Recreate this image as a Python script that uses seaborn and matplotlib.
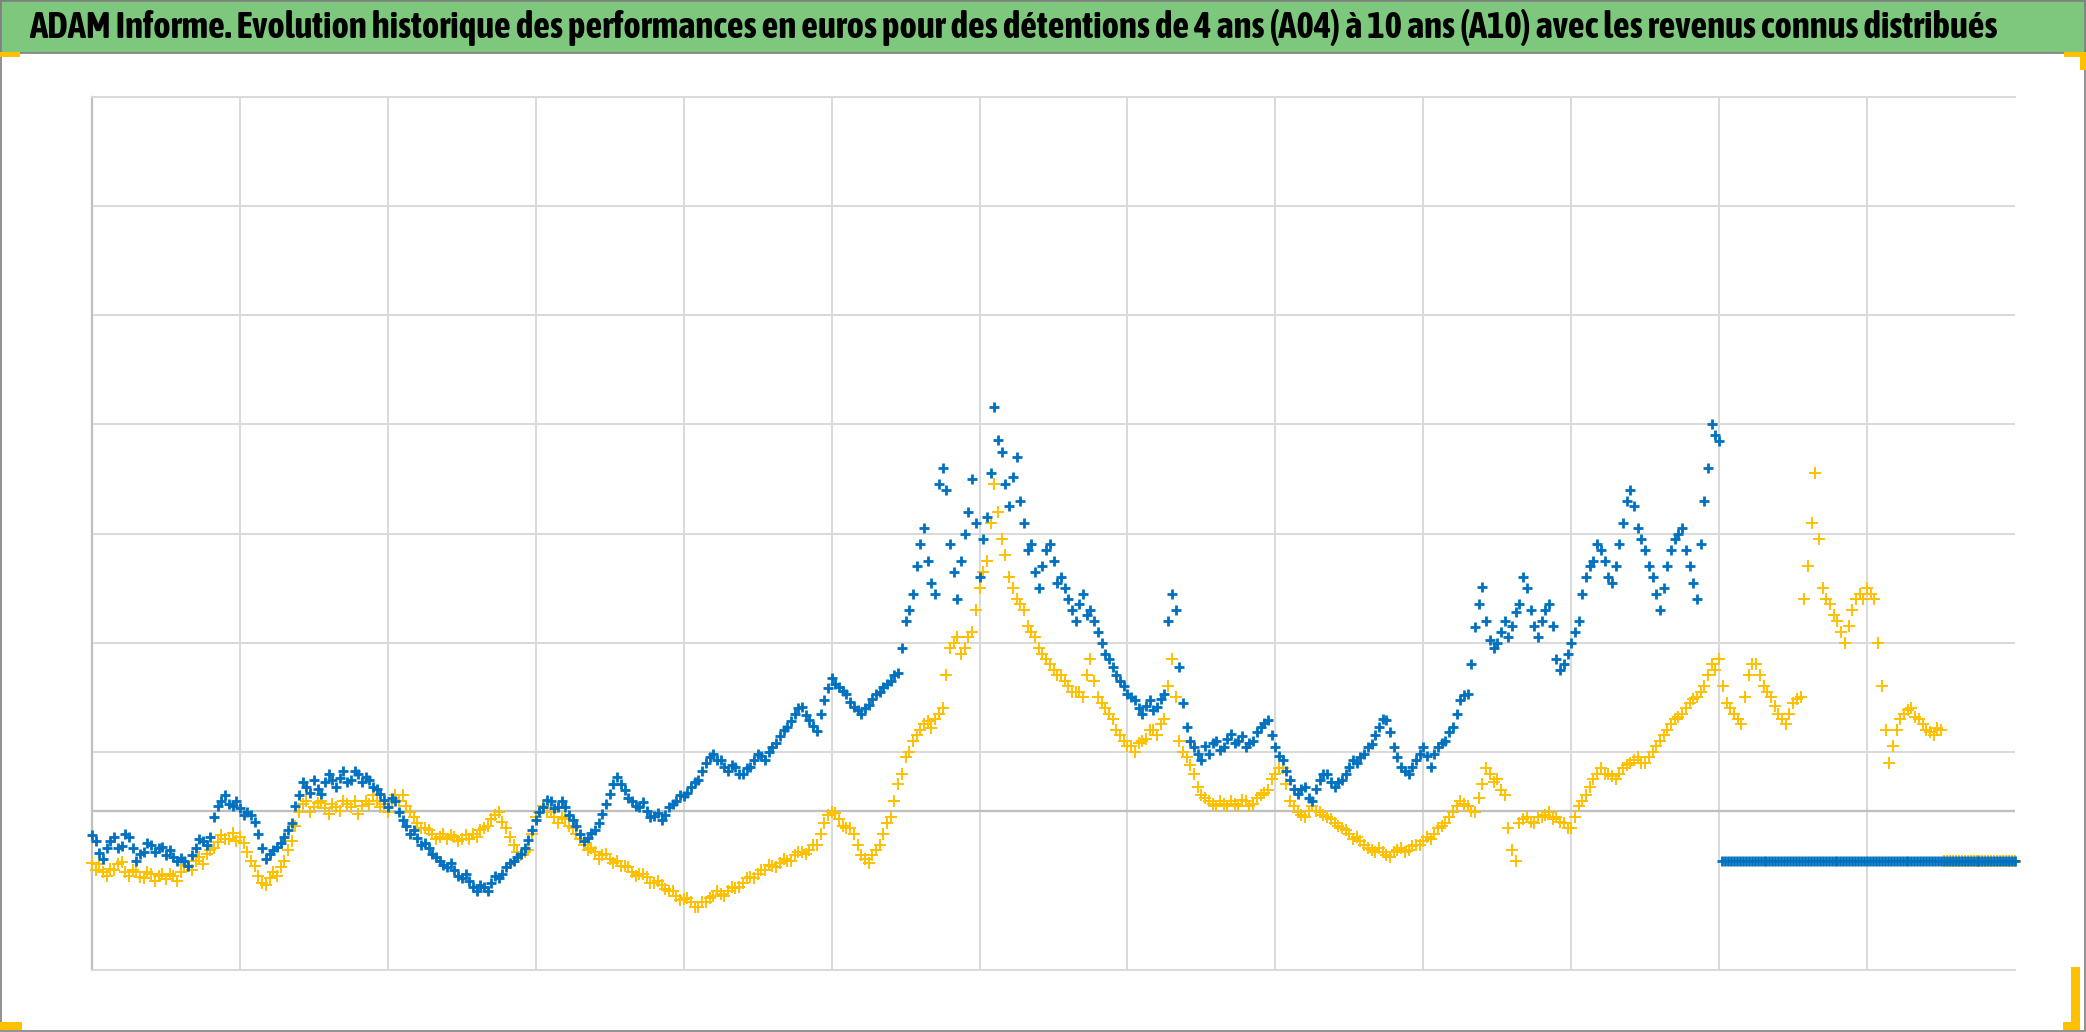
import numpy as np
import pandas as pd
import matplotlib
matplotlib.use("Agg")
import matplotlib.pyplot as plt
import seaborn as sns
from matplotlib import font_manager
from matplotlib.patches import Rectangle

TITLE = ("ADAM Informe. Evolution historique des performances en euros pour des "
         "détentions de 4 ans (A04) à 10 ans (A10) avec les revenus connus distribués")

# sampling step of the readings along the time axis (one grid cell = 1.0)
x_step = 0.05
flat_step = 0.02

# A04 holding (blue), read at x = 0, 0.05, ... 11.0
a04_values = [
    1.24, 1.07, 1.12, 1.22, 1.14, 1.22, 1.00, 1.08, 1.15, 1.12,
    1.05, 1.04, 1.03, 0.95, 1.12, 1.18, 1.22, 1.50, 1.60, 1.50,
    1.48, 1.45, 1.36, 1.12, 1.06, 1.13, 1.22, 1.35, 1.60,
    1.68, 1.74, 1.61, 1.80, 1.68, 1.82, 1.74, 1.80, 1.77, 1.68, 1.61, 1.49,
    1.55, 1.37, 1.25, 1.21, 1.16, 1.06, 1.00, 0.94, 0.92, 0.84,
    0.82, 0.72, 0.76, 0.80, 0.84, 0.94, 1.00, 1.06, 1.19, 1.37,
    1.49, 1.55, 1.49, 1.49, 1.37, 1.25, 1.21, 1.28, 1.43, 1.61,
    1.77, 1.65, 1.55, 1.49, 1.46, 1.41, 1.37, 1.49, 1.55, 1.59,
    1.68, 1.74, 1.90, 1.98, 1.92, 1.82, 1.86, 1.80, 1.86, 1.98,
    1.92, 2.04, 2.14, 2.23, 2.35, 2.41, 2.29, 2.19, 2.47, 2.68,
    2.59, 2.53, 2.41, 2.35, 2.43, 2.53, 2.59, 2.65, 2.72, 3.20,
    3.45, 3.90, 3.75, 3.45, 4.60, 3.90, 3.40, 4.00, 4.50, 3.60,
    4.15, 5.16, 4.75, 4.25, 4.70, 4.10, 3.90, 3.50, 3.85, 3.75,
    3.60, 3.40, 3.20, 3.45, 3.30, 3.10, 2.90, 2.78, 2.65, 2.53,
    2.47, 2.35, 2.47, 2.41, 2.53, 3.45, 2.78, 2.23, 2.04, 1.92,
    1.98, 2.10, 2.04, 2.16, 2.10, 2.04, 2.10, 2.23, 2.29, 2.04,
    1.92, 1.74, 1.61, 1.68, 1.55, 1.74, 1.80, 1.68, 1.74, 1.86,
    1.90, 1.98, 2.07, 2.23, 2.29, 2.04, 1.86, 1.80, 1.92, 2.04,
    1.86, 2.04, 2.10, 2.23, 2.47, 2.53, 3.14, 3.51, 3.02, 3.00,
    3.20, 3.15, 3.35, 3.50, 3.15, 3.20, 3.35, 2.85, 2.80, 3.00,
    3.20, 3.60, 3.75, 3.85, 3.60, 3.70, 4.10, 4.40, 4.05, 3.85,
    3.60, 3.30, 3.70, 3.95, 4.05, 3.70, 3.40, 4.30, 5.00, 4.85,
]

# A04 second reading, taken half a step later (x = 0.025, 0.075, ...)
a04_mid_values = [
    1.18, 1.02, 1.18, 1.12, 1.25, 1.12, 1.06, 1.16, 1.08, 1.13,
    1.10, 1.00, 1.00, 1.05, 1.20, 1.15, 1.40, 1.55, 1.52, 1.55,
    1.42, 1.42, 1.25, 1.02, 1.10, 1.16, 1.28, 1.50, 1.72,
    1.62, 1.66, 1.72, 1.74, 1.76, 1.72, 1.82, 1.72, 1.74, 1.66, 1.56, 1.58,
    1.45, 1.32, 1.28, 1.15, 1.12, 1.04, 0.96, 0.98, 0.86, 0.88,
    0.76, 0.78, 0.72, 0.86, 0.88, 0.98, 1.04, 1.12, 1.28, 1.45,
    1.56, 1.48, 1.55, 1.42, 1.32, 1.18, 1.26, 1.35, 1.52, 1.70,
    1.70, 1.58, 1.50, 1.54, 1.40, 1.44, 1.42, 1.52, 1.60, 1.62,
    1.72, 1.82, 1.95, 1.92, 1.86, 1.88, 1.80, 1.85, 1.92, 1.96,
    2.00, 2.08, 2.20, 2.28, 2.40, 2.34, 2.24, 2.35, 2.58, 2.62,
    2.56, 2.46, 2.38, 2.40, 2.48, 2.55, 2.62, 2.70, 2.95, 3.30,
    3.70, 4.05, 3.55, 4.45, 4.40, 3.65, 3.75, 4.20, 4.10, 3.95,
    4.55, 4.86, 4.45, 4.52, 4.30, 3.85, 3.65, 3.70, 3.90, 3.55,
    3.50, 3.30, 3.35, 3.25, 3.20, 3.00, 2.85, 2.70, 2.60, 2.50,
    2.40, 2.42, 2.38, 2.48, 3.20, 3.30, 2.45, 2.10, 1.98, 2.05,
    2.08, 2.02, 2.12, 2.08, 2.14, 2.08, 2.18, 2.26, 2.15, 1.96,
    1.82, 1.66, 1.66, 1.58, 1.66, 1.80, 1.72, 1.72, 1.80, 1.92,
    1.95, 2.04, 2.15, 2.30, 2.18, 1.95, 1.82, 1.86, 1.98, 1.96,
    1.98, 2.08, 2.18, 2.35, 2.52, 2.80, 3.35, 3.20, 2.95, 3.10,
    3.05, 3.28, 3.60, 3.30, 3.05, 3.30, 3.15, 2.75, 2.90, 3.10,
    3.45, 3.70, 3.90, 3.75, 3.55, 3.90, 4.30, 4.25, 3.95, 3.70,
    3.45, 3.50, 3.85, 4.00, 3.85, 3.55, 3.90, 4.60, 4.90,
]

# A10 holding (gold), read at x = 0, 0.05, ... 12.5
a10_values = [
    0.98, 0.97, 0.86, 0.92, 0.99, 0.86, 0.90, 0.84, 0.88, 0.86,
    0.83, 0.86, 0.90, 0.95, 1.00, 0.97, 1.10, 1.17, 1.20, 1.26,
    1.22, 1.08, 0.95, 0.80, 0.84, 0.86, 1.00, 1.18, 1.45,
    1.55, 1.49, 1.55, 1.43, 1.49, 1.55, 1.49, 1.43, 1.55, 1.60, 1.49, 1.45,
    1.60, 1.60, 1.45, 1.35, 1.30, 1.25, 1.22, 1.20, 1.22, 1.20,
    1.20, 1.22, 1.30, 1.38, 1.45, 1.30, 1.15, 1.05, 1.10, 1.40,
    1.50, 1.45, 1.35, 1.38, 1.30, 1.20, 1.10, 1.08, 1.05, 1.02,
    1.00, 0.95, 0.90, 0.88, 0.85, 0.80, 0.78, 0.72, 0.68, 0.65,
    0.62, 0.58, 0.62, 0.68, 0.70, 0.72, 0.75, 0.80, 0.85, 0.88,
    0.92, 0.95, 0.98, 1.00, 1.05, 1.08, 1.10, 1.15, 1.35, 1.45,
    1.38, 1.30, 1.25, 1.05, 0.98, 1.10, 1.25, 1.40, 1.70, 1.95,
    2.10, 2.20, 2.28, 2.30, 2.40, 2.95, 3.05, 2.95, 3.10, 3.50,
    3.75, 4.45, 3.95, 3.60, 3.40, 3.30, 3.10, 2.95, 2.85, 2.75,
    2.70, 2.60, 2.55, 2.50, 2.85, 2.50, 2.40, 2.30, 2.15, 2.05,
    2.00, 2.10, 2.20, 2.15, 2.30, 2.85, 2.10, 1.95, 1.80, 1.60,
    1.55, 1.50, 1.52, 1.55, 1.50, 1.55, 1.52, 1.60, 1.65, 1.80,
    1.85, 1.55, 1.45, 1.40, 1.50, 1.45, 1.40, 1.35, 1.30, 1.25,
    1.22, 1.15, 1.10, 1.12, 1.05, 1.08, 1.12, 1.10, 1.15, 1.18,
    1.20, 1.30, 1.35, 1.45, 1.55, 1.50, 1.45, 1.70, 1.80, 1.75,
    1.60, 1.10, 1.35, 1.40, 1.35, 1.40, 1.45, 1.40, 1.35, 1.30,
    1.50, 1.60, 1.75, 1.85, 1.80, 1.75, 1.85, 1.90, 1.95, 1.90,
    2.00, 2.10, 2.20, 2.30, 2.35, 2.45, 2.50, 2.60, 2.80, 2.85,
    2.45, 2.35, 2.25, 2.70, 2.80, 2.60, 2.50, 2.35, 2.25, 2.45,
    2.50, 3.70, 4.55, 3.50, 3.35, 3.20, 3.00, 3.30, 3.45, 3.50,
    3.40, 2.60, 1.90, 2.20, 2.35, 2.40, 2.30, 2.20, 2.15, 2.20,
]

# A10 second reading, half a step later
a10_mid_values = [
    0.92, 0.90, 0.93, 0.97, 0.90, 0.92, 0.85, 0.90, 0.82, 0.88,
    0.88, 0.82, 0.96, 0.92, 1.04, 1.06, 1.12, 1.24, 1.20, 1.18,
    1.16, 1.00, 0.86, 0.78, 0.90, 0.94, 1.10, 1.32, 1.52,
    1.45, 1.53, 1.48, 1.52, 1.46, 1.52, 1.55, 1.50, 1.52, 1.55, 1.52, 1.55,
    1.55, 1.50, 1.40, 1.30, 1.28, 1.20, 1.25, 1.24, 1.18, 1.24,
    1.25, 1.28, 1.32, 1.42, 1.36, 1.22, 1.08, 1.08, 1.25, 1.45,
    1.45, 1.40, 1.40, 1.32, 1.25, 1.15, 1.12, 1.02, 1.06, 0.98,
    0.95, 0.94, 0.86, 0.88, 0.80, 0.82, 0.74, 0.72, 0.64, 0.66,
    0.58, 0.62, 0.66, 0.72, 0.68, 0.76, 0.76, 0.84, 0.84, 0.92,
    0.96, 0.94, 1.02, 1.00, 1.08, 1.06, 1.15, 1.25, 1.42, 1.44,
    1.32, 1.30, 1.15, 1.02, 1.05, 1.15, 1.35, 1.55, 1.80, 2.00,
    2.15, 2.25, 2.22, 2.35, 2.70, 3.00, 2.90, 3.05, 3.30, 3.65,
    4.10, 4.20, 3.80, 3.50, 3.35, 3.15, 3.05, 2.90, 2.80, 2.70,
    2.65, 2.55, 2.55, 2.70, 2.65, 2.45, 2.35, 2.20, 2.10, 2.05,
    2.08, 2.12, 2.20, 2.25, 2.60, 2.50, 2.00, 1.88, 1.68, 1.58,
    1.52, 1.55, 1.50, 1.52, 1.56, 1.50, 1.58, 1.62, 1.75, 1.85,
    1.70, 1.50, 1.42, 1.46, 1.46, 1.42, 1.38, 1.32, 1.28, 1.20,
    1.18, 1.12, 1.08, 1.08, 1.04, 1.10, 1.08, 1.14, 1.15, 1.22,
    1.25, 1.32, 1.40, 1.50, 1.52, 1.46, 1.58, 1.85, 1.72, 1.65,
    1.30, 1.00, 1.38, 1.36, 1.40, 1.42, 1.38, 1.36, 1.30, 1.40,
    1.55, 1.68, 1.80, 1.80, 1.78, 1.80, 1.88, 1.92, 1.90, 1.95,
    2.05, 2.15, 2.25, 2.32, 2.40, 2.48, 2.55, 2.70, 2.75, 2.60,
    2.40, 2.30, 2.50, 2.80, 2.70, 2.55, 2.42, 2.30, 2.35, 2.48,
    3.40, 4.10, 3.95, 3.40, 3.25, 3.10, 3.15, 3.40, 3.40, 3.45,
    3.00, 2.20, 2.05, 2.30, 2.38, 2.32, 2.25, 2.18, 2.22,
]

# both series sit on a flat placeholder level once their history ends
flat_level = 1.0

x_end = 13.0
x_grid = list(range(1, 13))
y_grid = [2, 3, 4, 5, 6, 7]
axis_level = 1.46

BLUE = "#0070C0"
GOLD = "#FFC000"
GRID = "#D9D9D9"
AXIS = "#BFBFBF"
GREEN = "#7EC87E"


def build_series(values, mid_values):
    x_main = np.arange(len(values)) * x_step
    x_mid = np.arange(len(mid_values)) * x_step + x_step / 2
    x_flat = np.arange(x_main[-1] + flat_step, x_end + 1e-9, flat_step)
    return pd.DataFrame({
        "x": np.concatenate([x_main, x_mid, x_flat]),
        "y": np.concatenate([values, mid_values, np.full(len(x_flat), flat_level)]),
    })


def is_bold(entry):
    w = entry.weight
    if isinstance(w, str):
        return w.lower() in ("bold", "heavy", "black", "extra bold", "semibold", "demibold")
    return w >= 600


def title_font():
    """Find a condensed bold face, the closest thing to the Calibri Bold title."""
    entries = font_manager.fontManager.ttflist
    for e in entries:
        if ("Narrow" in e.name or "Condensed" in e.name) and is_bold(e):
            return [e.name], "normal"
    for e in entries:
        if e.name == "DejaVu Sans" and "condensed" in str(e.stretch) and is_bold(e):
            return ["DejaVu Sans"], "condensed"
    return ["Liberation Sans", "DejaVu Sans"], "normal"


def main():
    sns.set_theme(style="white")
    plt.rcParams["font.family"] = ["DejaVu Sans"]

    a04 = build_series(a04_values, a04_mid_values)
    a10 = build_series(a10_values, a10_mid_values)

    fig = plt.figure(figsize=(20.86, 10.32), dpi=100)
    W, H = 2086, 1032

    # title band
    fig.patches.append(Rectangle((0, 1 - 53 / H), 1, 53 / H, transform=fig.transFigure,
                                 facecolor=GREEN, edgecolor="#7F7F7F", lw=1.2))
    family, stretch = title_font()
    title = fig.text(29 / W, 1 - 28 / H, TITLE, ha="left", va="center",
                     fontsize=26, fontweight="bold", color="black",
                     family=family, fontstretch=stretch)
    fig.canvas.draw()
    width = title.get_window_extent(fig.canvas.get_renderer()).width
    title.set_fontsize(26 * 1973 / width)

    # outer frame
    fig.patches.append(Rectangle((0.0005, 0.001), 0.999, 0.998, transform=fig.transFigure,
                                 fill=False, edgecolor="#7F7F7F", lw=1.2))

    # selection handles in the corners
    for (x0, y0, w, h) in [(0, 52, 20, 5), (2064, 52, 22, 5), (2080, 52, 6, 18),
                           (0, 1022, 22, 8), (2063, 1022, 17, 8), (2071, 967, 9, 63)]:
        fig.patches.append(Rectangle((x0 / W, 1 - (y0 + h) / H), w / W, h / H,
                                     transform=fig.transFigure, facecolor=GOLD, lw=0))

    ax = fig.add_axes([92 / W, 1 - 970 / H, (2015 - 92) / W, (970 - 97) / H])
    ax.set_xlim(0, x_end)
    ax.set_ylim(0, 8)
    ax.set_xticks(x_grid)
    ax.set_yticks(y_grid)
    ax.set_xticklabels([])
    ax.set_yticklabels([])
    ax.tick_params(length=0)
    ax.grid(True, color=GRID, lw=1.4)
    ax.set_axisbelow(True)
    for side in ["top", "bottom"]:
        ax.spines[side].set_color(GRID)
        ax.spines[side].set_linewidth(1.4)
    ax.spines["right"].set_visible(False)
    ax.spines["left"].set_color(AXIS)
    ax.spines["left"].set_linewidth(1.6)
    ax.axhline(axis_level, color=AXIS, lw=1.6, zorder=1)

    sns.scatterplot(data=a10, x="x", y="y", marker="+", s=75, color=GOLD,
                    linewidth=1.4, ax=ax, clip_on=False, zorder=3)
    sns.scatterplot(data=a04, x="x", y="y", marker="+", s=48, color=BLUE,
                    linewidth=2.0, ax=ax, clip_on=False, zorder=4)
    ax.set_xlabel("")
    ax.set_ylabel("")

    fig.savefig("out.png", dpi=100, facecolor="white")


if __name__ == "__main__":
    main()
